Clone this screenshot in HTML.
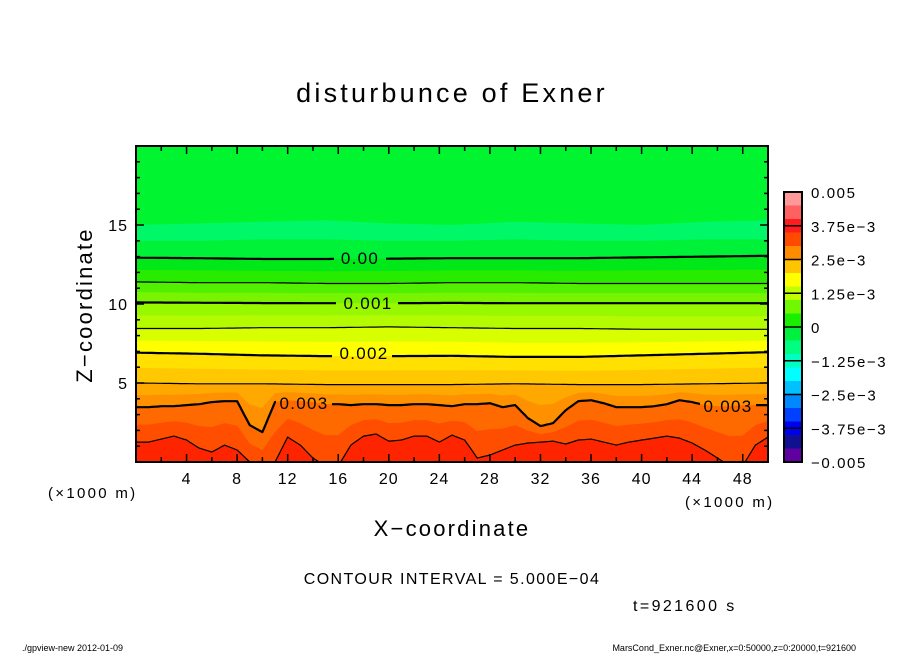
<!DOCTYPE html>
<html><head><meta charset="utf-8">
<style>
html,body{margin:0;padding:0;background:#fff;}
svg{display:block;font-family:"Liberation Sans",sans-serif;}
</style></head>
<body>
<svg id="chart" width="904" height="654" viewBox="0 0 904 654" xmlns="http://www.w3.org/2000/svg">
<text x="452" y="102" text-anchor="middle" font-size="27" letter-spacing="3.2">disturbunce of Exner</text>
<defs>
<clipPath id="plotclip"><rect x="136" y="146" width="632" height="316"/></clipPath>
<mask id="labelmask" maskUnits="userSpaceOnUse" x="0" y="0" width="904" height="654">
<rect x="0" y="0" width="904" height="654" fill="#fff"/>
<rect x="334" y="247" width="52" height="20" fill="#000"/>
<rect x="336" y="292" width="62" height="20" fill="#000"/>
<rect x="332" y="342" width="60" height="20" fill="#000"/>
<rect x="276" y="392" width="56" height="20" fill="#000"/>
<rect x="700" y="395" width="56" height="20" fill="#000"/>
</mask>
</defs>
<g id="fills" clip-path="url(#plotclip)"></g>
<g id="lines" clip-path="url(#plotclip)" mask="url(#labelmask)"></g>
<g id="clabels"></g>
<rect x="136" y="146" width="632" height="316" fill="none" stroke="#000" stroke-width="2"/>
<g id="axes"></g>
<text x="452" y="536" text-anchor="middle" font-size="22" letter-spacing="2.2">X−coordinate</text>
<text transform="translate(92,305) rotate(-90)" text-anchor="middle" font-size="22" letter-spacing="2.2">Z−coordinate</text>
<text x="48" y="498" font-size="15" letter-spacing="2.3">(×1000 m)</text>
<text x="685" y="507" font-size="15" letter-spacing="2.3">(×1000 m)</text>
<g id="cbar"></g>
<text x="452" y="584" text-anchor="middle" font-size="16" letter-spacing="1.4">CONTOUR INTERVAL = 5.000E−04</text>
<text x="633" y="611" font-size="16" letter-spacing="2.4">t=921600 s</text>
<text x="22" y="651" font-size="9">./gpview-new   2012-01-09</text>
<text x="856" y="651" text-anchor="end" font-size="9">MarsCond_Exner.nc@Exner,x=0:50000,z=0:20000,t=921600</text>
</svg>
<script>
// ---- data ----
const xCoarse = [0,5,10,15,20,25,30,35,40,45,50];
const zLightTop = [15.0,15.1,15.2,15.3,15.1,15.0,15.2,15.1,15.0,15.2,15.3];
const zLightBot = [14.0,14.0,14.1,14.1,14.0,14.0,14.1,14.0,14.0,14.1,14.1];
const zC0000 = [12.93,12.9,12.85,12.85,12.87,12.9,12.9,12.9,12.95,13.0,13.05];
const zC0005 = [11.4,11.35,11.35,11.3,11.3,11.35,11.35,11.3,11.3,11.3,11.3];
const zC0010 = [10.1,10.08,10.06,10.05,10.05,10.07,10.05,10.05,10.05,10.05,10.05];
const zC0015 = [8.45,8.45,8.5,8.5,8.55,8.5,8.45,8.45,8.4,8.4,8.4];
const zC0020 = [6.92,6.85,6.75,6.7,6.7,6.72,6.65,6.65,6.75,6.85,6.95];
const zC0025 = [5.0,4.95,4.95,4.9,4.9,4.9,4.95,4.9,4.9,4.95,5.0];
const xFine = Array.from({length:51},(_,i)=>i);
const zC0030 = [3.47,3.47,3.53,3.53,3.60,3.66,3.79,3.85,3.85,2.33,1.89,3.79,3.91,3.85,3.79,3.66,3.66,3.60,3.66,3.66,3.60,3.60,3.66,3.66,3.60,3.53,3.66,3.66,3.72,3.47,3.60,2.78,2.27,2.46,3.28,3.85,3.91,3.72,3.47,3.47,3.47,3.53,3.66,3.91,3.79,3.60,3.53,3.53,3.60,3.60,3.60];
const zC0035 = [1.26,1.26,1.45,1.64,1.39,0.88,0.63,1.07,0.76,0,-0.38,0,1.58,1.07,0.25,-0.25,-0.25,1.07,1.64,1.77,1.32,1.39,1.64,1.64,1.26,1.70,1.39,0.25,0.44,0.76,1.07,1.20,1.26,1.32,1.14,1.39,1.45,1.26,1.07,1.26,1.39,1.51,1.64,1.51,1.20,0.76,0.25,-0.25,-0.25,1.07,1.58];
const cbarColors = ["#ff9898","#ff6060","#ff1c1c","#ff4a00","#ff8c00","#ffc400","#ffff00","#c0ff00","#70f800","#18f000","#00f040","#00ff80","#00ffc0","#00ffff","#00c0ff","#0088ff","#0040ff","#0000f0","#101090","#6000a0"];
const cbarLabels = ["0.005","3.75e−3","2.5e−3","1.25e−3","0","−1.25e−3","−2.5e−3","−3.75e−3","−0.005"];
const xTickLabels = [4,8,12,16,20,24,28,32,36,40,44,48];
const zTickLabels = [5,10,15];

// ---- axes ----
const X0=136,X1=768,Y0=462,Y1=146;
const sx = x => X0 + x/50*(X1-X0);
const sz = z => Y0 - z/20*(Y0-Y1);
const NS="http://www.w3.org/2000/svg";
function mk(tag, attrs, parent){const e=document.createElementNS(NS,tag);for(const k in attrs)e.setAttribute(k,attrs[k]);parent.appendChild(e);return e;}
function interp(xs, zs, x){
  if(x<=xs[0])return zs[0];
  for(let i=1;i<xs.length;i++){if(x<=xs[i]){const t=(x-xs[i-1])/(xs[i]-xs[i-1]);return zs[i-1]+t*(zs[i]-zs[i-1]);}}
  return zs[zs.length-1];
}
const curves = {
  lt:x=>interp(xCoarse,zLightTop,x), lb:x=>interp(xCoarse,zLightBot,x),
  c0:x=>interp(xCoarse,zC0000,x), c05:x=>interp(xCoarse,zC0005,x),
  c10:x=>interp(xCoarse,zC0010,x), c15:x=>interp(xCoarse,zC0015,x),
  c20:x=>interp(xCoarse,zC0020,x), c25:x=>interp(xCoarse,zC0025,x),
  c30:x=>interp(xFine,zC0030,x), c35:x=>interp(xFine,zC0035,x)
};
const mid=(a,b)=>x=>(curves[a](x)+curves[b](x))/2;
function pathFor(f){let d="";for(let x=0;x<=50.001;x+=0.25){d+=(d?"L":"M")+sx(x).toFixed(1)+","+sz(f(x)).toFixed(1);}return d;}

const fills=document.getElementById('fills');
const bg=mk('rect',{x:X0,y:Y1,width:X1-X0,height:Y0-Y1,fill:"#00f530"},fills);


const layers=[
 [curves.lt,"#00f868"],[curves.lb,"#00f238"],
 [curves.c0,"#00e818"],[mid('c0','c05'),"#28ec00"],
 [curves.c05,"#50f000"],[mid('c05','c10'),"#78f400"],
 [curves.c10,"#98f800"],[mid('c10','c15'),"#b4fa00"],
 [curves.c15,"#d8ff00"],[mid('c15','c20'),"#ffff00"],
 [curves.c20,"#ffe000"],[mid('c20','c25'),"#ffc800"],
 [curves.c25,"#ffa800"],[mid('c25','c30'),"#ff9000"],
 [curves.c30,"#ff6a00"],[mid('c30','c35'),"#ff4e00"],
 [curves.c35,"#ff2400"]
];
layers.forEach(([f,col])=>{
  const p=mk('path',{d:pathFor(f)+"L"+X1+","+(Y0+5)+"L"+X0+","+(Y0+5)+"Z",fill:col},fills);
  
  
});
const lines=document.getElementById('lines');
[[curves.c0,2.2],[curves.c05,1.2],[curves.c10,2.2],[curves.c15,1.2],[curves.c20,2.2],[curves.c25,1.2],[curves.c30,2.2],[curves.c35,1.2]].forEach(([f,w])=>{
  const p=mk('path',{d:pathFor(f),fill:"none",stroke:"#000","stroke-width":w,"stroke-linejoin":"round"},lines);
  
  
});
const cl=document.getElementById('clabels');
[["0.00",360,264],["0.001",368,309],["0.002",364,359],["0.003",304,409],["0.003",728,412]].forEach(([t,x,y])=>{
  const e=mk('text',{x:x,y:y,"text-anchor":"middle","font-size":"17","letter-spacing":"1.3"},cl);e.textContent=t;
  
  
});

// ticks
const ax=document.getElementById('axes');
for(let x=2;x<50;x+=2){
  const L=(x%4===0)?8:5;
  mk('line',{x1:sx(x),x2:sx(x),y1:Y0,y2:Y0-L,stroke:"#000","stroke-width":1.5},ax);
  mk('line',{x1:sx(x),x2:sx(x),y1:Y1,y2:Y1+L,stroke:"#000","stroke-width":1.5},ax);
}
for(let z=1;z<20;z++){
  const L=(z%5===0)?8:4;
  mk('line',{x1:X0,x2:X0+L,y1:sz(z),y2:sz(z),stroke:"#000","stroke-width":1.5},ax);
  mk('line',{x1:X1,x2:X1-L,y1:sz(z),y2:sz(z),stroke:"#000","stroke-width":1.5},ax);
}
xTickLabels.forEach(v=>{
  const t=mk('text',{x:sx(v),y:484,"text-anchor":"middle","font-size":"16","letter-spacing":"1"},ax);t.textContent=v;
  
  
});
zTickLabels.forEach(v=>{
  const t=mk('text',{x:128,y:sz(v)+6,"text-anchor":"end","font-size":"16","letter-spacing":"1"},ax);t.textContent=v;
  
  
});

// colorbar
const cb=document.getElementById('cbar');
const CX=784,CW=18,CT=192,CB=462,bh=(CB-CT)/cbarColors.length;
cbarColors.forEach((c,i)=>{
  const r=mk('rect',{x:CX,y:CT+i*bh,width:CW,height:bh+0.5,fill:c},cb);
  
  
});
cbarLabels.forEach((t,i)=>{
  const y=CT+i*(CB-CT)/(cbarLabels.length-1);
  if(i>0&&i<cbarLabels.length-1)mk('line',{x1:CX,x2:CX+CW,y1:y,y2:y,stroke:"#000","stroke-width":1.5},cb);
  const e=mk('text',{x:811,y:y+6,"font-size":"15","letter-spacing":"1.6"},cb);e.textContent=t;
  
  
});
mk('rect',{x:CX,y:CT,width:CW,height:CB-CT,fill:"none",stroke:"#000","stroke-width":2},cb);
</script>
</body></html>
